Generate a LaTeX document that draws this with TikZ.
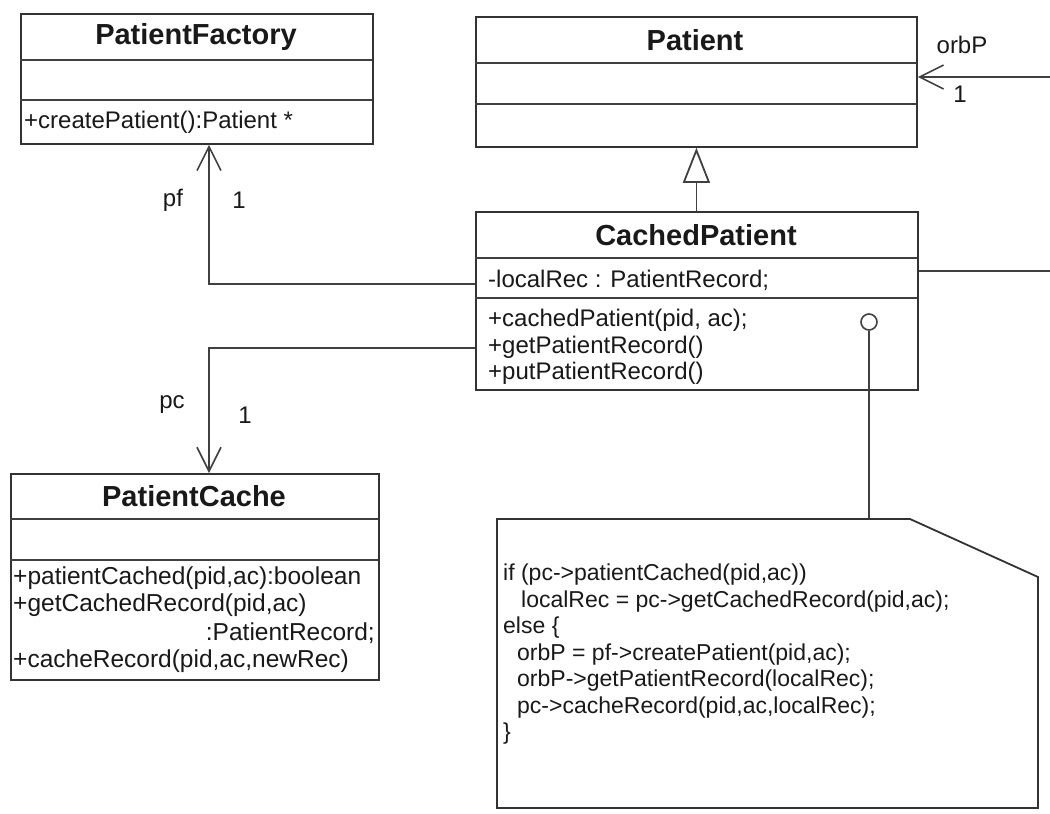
\documentclass[tikz,border=0pt]{standalone}
\usepackage{fontspec}
\setmainfont{Liberation Sans}
\usetikzlibrary{arrows.meta}
\tikzset{
  edge/.style={draw=black!80, line width=1.8pt},
  cls/.style={edge, anchor=north west, inner sep=0pt, fill=white},
  divider/.style={draw=black!75, line width=1.5pt},
  ttl/.style={font=\fontsize{29}{31}\selectfont\bfseries, text=black!90, inner sep=0pt},
  mem/.style={font=\fontsize{24}{27}\selectfont, text=black!90, inner sep=0pt, anchor=west},
  memc/.style={font=\fontsize{24.5}{27}\selectfont, text=black!90, inner sep=0pt, anchor=west},
  lbl/.style={font=\fontsize{24}{27}\selectfont, text=black!90, inner sep=0pt},
  conn/.style={draw=black!75, line width=1.6pt},
  nav/.style={conn, -{Straight Barb[length=24pt, width=24pt, line width=1.6pt]}},
  gen/.style={conn, -{Triangle[open, length=35pt, width=27pt, line width=1.8pt, fill=white]}},
  notetxt/.style={font=\fontsize{23}{26.5}\selectfont, text=black!90, inner sep=0pt, align=left, anchor=north west}
}
\begin{document}
\begin{tikzpicture}[x=1pt,y=-1pt]
\useasboundingbox (0,0) rectangle (1050,814);

% ---------- PatientFactory ----------
\node[cls, minimum width=352pt, minimum height=130pt] (pf) at (20,13) {};
\draw[divider] (20,60) -- (372,60);
\draw[divider] (20,100) -- (372,100);
\node[ttl] (pftitle) at (196,37) {PatientFactory};
\node[mem] (pfm1) at (24,122) {+createPatient():Patient *};

% ---------- Patient ----------
\node[cls, minimum width=441pt, minimum height=130pt] (pat) at (475,16) {};
\draw[divider] (475,63) -- (916,63);
\draw[divider] (475,104) -- (916,104);
\node[ttl] (pattitle) at (695,40) {Patient};

% ---------- CachedPatient ----------
\node[cls, minimum width=442pt, minimum height=178pt] (cp) at (475,211) {};
\draw[divider] (475,258) -- (917,258);
\draw[divider] (475,298) -- (917,298);
\node[ttl] (cptitle) at (696,235) {CachedPatient};
\node[mem] (cpa1) at (488,280) {-localRec : PatientRecord;};
\node[mem] (cpm1) at (488,320) {+cachedPatient(pid, ac);};
\node[mem] (cpm2) at (488,347) {+getPatientRecord()};
\node[mem] (cpm3) at (488,373) {+putPatientRecord()};

% ---------- PatientCache ----------
\node[cls, minimum width=368pt, minimum height=206pt] (pc) at (10,473) {};
\draw[divider] (10,519) -- (378,519);
\draw[divider] (10,560) -- (378,560);
\node[ttl] (pctitle) at (194,496) {PatientCache};
\node[memc] (pcm1) at (13,578) {+patientCached(pid,ac):boolean};
\node[memc] (pcm2) at (13,605) {+getCachedRecord(pid,ac)};
\node[memc, anchor=east] (pcm3) at (375,633) {:PatientRecord;};
\node[memc] (pcm4) at (13,661) {+cacheRecord(pid,ac,newRec)};

% ---------- Note ----------
\coordinate (notetop) at (869,519);
\draw[edge, fill=white] (497,519) -- (910,519) -- (1038,577) -- (1038,808) -- (497,808) -- cycle;
\node[notetxt] (notetext) at (503,564) {if (pc->patientCached(pid,ac))\\
\hspace*{18pt}localRec = pc->getCachedRecord(pid,ac);\\
else \{\\
\hspace*{14pt}orbP = pf->createPatient(pid,ac);\\
\hspace*{14pt}orbP->getPatientRecord(localRec);\\
\hspace*{14pt}pc->cacheRecord(pid,ac,localRec);\\
\}};

% ---------- Connectors ----------
% generalization
\draw[gen] (cp.north -| pat.center) -- (pat.south);

% pf association
\coordinate (pfbend) at (209,284);
\draw[nav] (cp.west |- pfbend) -- (pfbend) -- (pfbend |- pf.south);
\node[lbl] (pflbl) at (173,200) {pf};
\node[lbl] (pfmul) at (239,200) {1};

% pc association
\coordinate (pcbend) at (209,348);
\draw[nav] (cp.west |- pcbend) -- (pcbend) -- (pcbend |- pc.north);
\node[lbl] (pclbl) at (172,405) {pc};
\node[lbl] (pcmul) at (245,415) {1};

% orbP association
\coordinate (orbend) at (1050,77);
\coordinate (cpend) at (1050,271);
\draw[conn] (cp.east |- cpend) -- (cpend);
\draw[nav] (orbend) -- (pat.east |- orbend);
\node[lbl] (orblbl) at (962,45) {orbP};
\node[lbl] (orbmul) at (960,94) {1};

% lollipop to note
\node[draw=black!75, line width=1.6pt, circle, minimum size=16pt, inner sep=0pt, fill=white] (lol) at (869,322) {};
\draw[conn] (lol.south) -- (notetop);
\end{tikzpicture}
\end{document}
